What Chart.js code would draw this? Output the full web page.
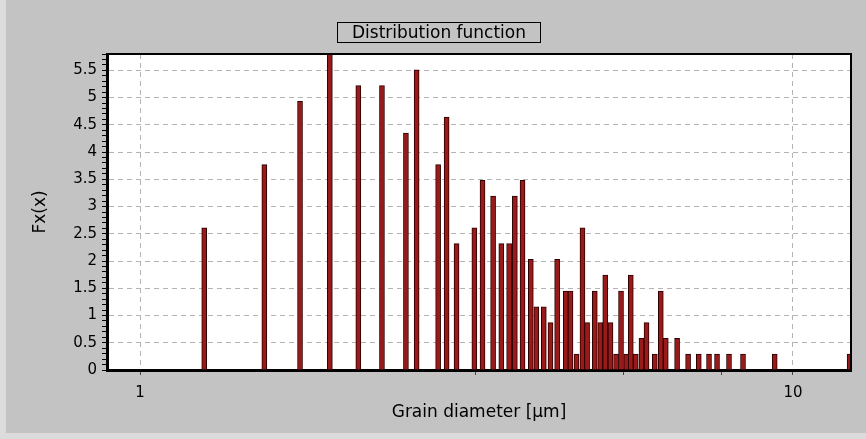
<!DOCTYPE html>
<html>
<head>
<meta charset="utf-8">
<script src="https://cdn.jsdelivr.net/npm/chart.js@4.4.1/dist/chart.umd.min.js"></script>
<style>
  html, body { margin: 0; padding: 0; }
  body { width: 866px; height: 439px; background: #dcdcdc; position: relative; overflow: hidden; }
  .panel { position: absolute; left: 6px; top: 0; width: 860px; height: 433px; background: #c3c3c3; }
  .ttl { position: absolute; left: 337px; top: 22px; width: 202px; height: 19px; border: 1px solid #000;
         font: 17px "DejaVu Sans", sans-serif; line-height: 19px; text-align: center; color: #000; }
</style>
</head>
<body>
<div class="panel"><canvas id="fx" width="860" height="433"></canvas></div>
<div class="ttl">Distribution function</div>
<script>
// grain diameter classes [µm] and Fx(x) values
let diameters = [1.254, 1.550, 1.758, 1.953, 2.159, 2.347, 2.554, 2.652, 2.861, 2.948,
    3.053, 3.251, 3.346, 3.473, 3.575, 3.675, 3.750, 3.853, 3.967, 4.045,
    4.153, 4.252, 4.353, 4.488, 4.563, 4.661, 4.760, 4.838, 4.971, 5.068,
    5.158, 5.254, 5.359, 5.453, 5.555, 5.644, 5.744, 5.861, 5.966, 6.143,
    6.274, 6.385, 6.645, 6.908, 7.173, 7.437, 7.650, 7.980, 8.384, 9.376, 12.21];
let fx_values = [2.61, 3.77, 4.93, 5.80, 5.22, 5.22, 4.35, 5.51, 3.77, 4.64,
    2.32, 2.61, 3.48, 3.19, 2.32, 2.32, 3.19, 3.48, 2.03, 1.16,
    1.16, 0.87, 2.03, 1.45, 1.45, 0.29, 2.61, 0.87, 1.45, 0.87,
    1.74, 0.87, 0.29, 1.45, 0.29, 1.74, 0.29, 0.58, 0.87, 0.29,
    1.45, 0.58, 0.58, 0.29, 0.29, 0.29, 0.29, 0.29, 0.29, 0.29, 0.29];
let x_ticks = [1, 3.26, 5.5, 7.78, 10];
let x_labels = ['1', '', '', '', '10'];

let pts = diameters.map((d, i) => ({x: d, y: fx_values[i]}));

function half(v) { return Math.abs(v * 2 - Math.round(v * 2)) < 1e-6; }

// white plot area + black frame on top/right
const frame = {
    id: 'frame',
    beforeDraw(chart) {
        const a = chart.chartArea, c = chart.ctx;
        c.save();
        c.fillStyle = '#fff';
        c.fillRect(a.left, a.top, a.right - a.left, a.bottom - a.top);
        c.restore();
    },
    afterDraw(chart) {
        const a = chart.chartArea, c = chart.ctx;
        c.save();
        c.strokeStyle = '#000';
        c.lineWidth = 2;
        c.beginPath();
        c.moveTo(a.left, a.top);
        c.lineTo(a.right, a.top);
        c.lineTo(a.right, a.bottom);
        c.stroke();
        c.restore();
    }
};

const chart = new Chart('fx', {
    type: 'bar',
    data: {
        datasets: [{
            data: pts,
            backgroundColor: '#9a1a1a',
            borderColor: '#2a0000',
            borderWidth: 1,
            barThickness: 5
        }]
    },
    plugins: [frame],
    options: {
        responsive: false,
        animation: false,
        layout: {padding: {left: 0, right: 15, top: 54, bottom: 0}},
        plugins: {legend: {display: false}, tooltip: {enabled: false}},
        scales: {
            x: {
                type: 'logarithmic',
                min: 0.89,
                max: 12.27,
                offset: false,
                afterBuildTicks: s => { s.ticks = x_ticks.map(v => ({value: v})); },
                afterFit: s => { s.height = 63; },
                ticks: {
                    autoSkip: false,
                    maxRotation: 0,
                    padding: 9,
                    color: '#000',
                    font: {family: 'DejaVu Sans', size: 15},
                    callback: (v, i) => x_labels[i]
                },
                grid: {
                    offset: false,
                    color: ctx => (ctx.tick && (ctx.tick.value === 1 || ctx.tick.value === 10)) ? '#b4b4b4' : 'rgba(0,0,0,0)',
                    tickColor: '#444',
                    tickLength: 5
                },
                border: {color: '#000', width: 3, dash: [5, 4]},
                title: {
                    display: true,
                    text: 'Grain diameter [µm]',
                    color: '#000',
                    font: {family: 'DejaVu Sans', size: 17},
                    padding: {top: 0, bottom: 10}
                }
            },
            y: {
                min: 0,
                max: 5.8,
                afterBuildTicks: s => {
                    let t = [];
                    for (let k = 0; k <= 58; k++) t.push({value: k / 10});
                    s.ticks = t;
                },
                afterFit: s => { s.width = 101; },
                ticks: {
                    autoSkip: false,
                    padding: 5,
                    color: '#000',
                    font: {family: 'DejaVu Sans', size: 15},
                    callback: v => half(v) ? String(Math.round(v * 2) / 2) : ''
                },
                grid: {
                    color: ctx => (ctx.tick && half(ctx.tick.value) && ctx.tick.value > 0) ? '#b4b4b4' : 'rgba(0,0,0,0)',
                    tickColor: '#000',
                    tickLength: 5
                },
                border: {color: '#000', width: 3, dash: [5, 4]},
                title: {
                    display: true,
                    text: 'Fx(x)',
                    color: '#000',
                    font: {family: 'DejaVu Sans', size: 17},
                    padding: {top: 24, bottom: 0}
                }
            }
        }
    }
});
</script>
</body>
</html>
